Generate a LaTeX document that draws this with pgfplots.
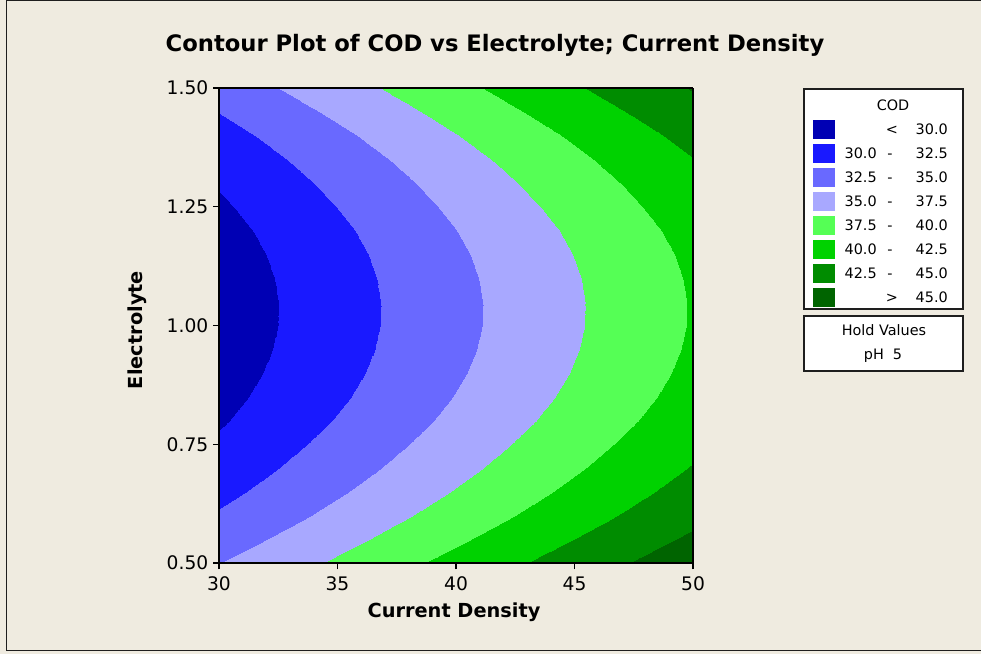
\documentclass[border=0pt]{standalone}
\usepackage{fontspec}
\setmainfont{DejaVu Sans}
\setsansfont{DejaVu Sans}
\usepackage{pgfplots}
\usepackage{pgfplotstable}
\pgfplotsset{compat=1.18}

\definecolor{bg}{RGB}{239,235,224}
\definecolor{c1}{RGB}{0,0,180}
\definecolor{c2}{RGB}{25,25,255}
\definecolor{c3}{RGB}{105,105,255}
\definecolor{c4}{RGB}{168,168,255}
\definecolor{c5}{RGB}{85,255,85}
\definecolor{c6}{RGB}{0,210,0}
\definecolor{c7}{RGB}{0,140,0}
\definecolor{c8}{RGB}{0,100,0}
\definecolor{frame}{RGB}{30,30,30}

% COD response over Current Density (x) and Electrolyte (y), pH held at 5
\pgfplotstableread{
x  y     z
30 0.50 34.96
35 0.50 37.86
40 0.50 40.76
45 0.50 43.66
50 0.50 46.56
30 0.55 33.81
35 0.55 36.71
40 0.55 39.61
45 0.55 42.51
50 0.55 45.41
30 0.60 32.77
35 0.60 35.67
40 0.60 38.57
45 0.60 41.47
50 0.60 44.37
30 0.65 31.84
35 0.65 34.74
40 0.65 37.64
45 0.65 40.54
50 0.65 43.44
30 0.70 31.03
35 0.70 33.93
40 0.70 36.83
45 0.70 39.73
50 0.70 42.63
30 0.75 30.34
35 0.75 33.24
40 0.75 36.14
45 0.75 39.04
50 0.75 41.94
30 0.80 29.75
35 0.80 32.65
40 0.80 35.55
45 0.80 38.45
50 0.80 41.35
30 0.85 29.28
35 0.85 32.18
40 0.85 35.08
45 0.85 37.98
50 0.85 40.88
30 0.90 28.93
35 0.90 31.83
40 0.90 34.73
45 0.90 37.63
50 0.90 40.53
30 0.95 28.69
35 0.95 31.59
40 0.95 34.49
45 0.95 37.39
50 0.95 40.29
30 1.00 28.56
35 1.00 31.46
40 1.00 34.36
45 1.00 37.26
50 1.00 40.16
30 1.05 28.55
35 1.05 31.45
40 1.05 34.35
45 1.05 37.25
50 1.05 40.15
30 1.10 28.65
35 1.10 31.55
40 1.10 34.45
45 1.10 37.35
50 1.10 40.25
30 1.15 28.86
35 1.15 31.76
40 1.15 34.66
45 1.15 37.56
50 1.15 40.46
30 1.20 29.19
35 1.20 32.09
40 1.20 34.99
45 1.20 37.89
50 1.20 40.79
30 1.25 29.64
35 1.25 32.54
40 1.25 35.44
45 1.25 38.34
50 1.25 41.24
30 1.30 30.19
35 1.30 33.09
40 1.30 35.99
45 1.30 38.89
50 1.30 41.79
30 1.35 30.86
35 1.35 33.76
40 1.35 36.66
45 1.35 39.56
50 1.35 42.46
30 1.40 31.65
35 1.40 34.55
40 1.40 37.45
45 1.40 40.35
50 1.40 43.25
30 1.45 32.55
35 1.45 35.45
40 1.45 38.35
45 1.45 41.25
50 1.45 44.15
30 1.50 33.56
35 1.50 36.46
40 1.50 39.36
45 1.50 42.26
50 1.50 45.16
}\codtable

\begin{document}
\begin{tikzpicture}
\path[use as bounding box] (0,0) rectangle (735.75pt,489.75pt);
\fill[bg] (-2pt,-2pt) rectangle (737.75pt,491.75pt);

\begin{axis}[
  at={(164.25pt,67.5pt)}, anchor=south west,
  scale only axis, width=355.5pt, height=356.25pt,
  view={0}{90},
  xmin=30, xmax=50, ymin=0.5, ymax=1.5,
  xtick={30,35,40,45,50},
  ytick={0.5,0.75,1,1.25,1.5},
  ztick=\empty,
  yticklabel style={/pgf/number format/.cd, fixed, fixed zerofill, precision=2},
  xticklabel style={yshift=-2.5pt},
  /pgf/number format/assume math mode=true,
  tick label style={font=\fontsize{14}{16}\selectfont, text=black},
  tick align=outside,
  tick pos=left,
  major tick length=4.5pt,
  tick style={line width=1.1pt, black},
  axis line style={line width=1.5pt, black},
  axis on top,
  % eight bands of 2.5 between 27.5 and 47.5
  colormap={cod}{color=(c1) color=(c2) color=(c3) color=(c4)
                 color=(c5) color=(c6) color=(c7) color=(c8)},
  colormap access=piecewise constant,
  point meta min=27.5, point meta max=47.5,
]
\addplot3[surf, shader=interp, mesh/cols=5] table {\codtable};
\end{axis}

\begin{scope}[x=0.75pt, y=-0.75pt, shift={(0,489.75pt)}]
  % outer frame: left, top and bottom edges
  \draw[frame, line width=1.2pt] (984,0.5) -- (6.5,0.5) -- (6.5,650.5) -- (984,650.5);

  % title and axis titles
  \node[font=\fontsize{17}{20}\bfseries\selectfont] at (495,45) {Contour Plot of COD vs Electrolyte; Current Density};
  \node[font=\fontsize{14.5}{17}\bfseries\selectfont] at (454,612) {Current Density};
  \node[font=\fontsize{14.5}{17}\bfseries\selectfont, rotate=90] at (137,330) {Electrolyte};

  % legend of contour levels
  \draw[frame, line width=1.3pt, fill=white] (804,89) rectangle (963,309);
  \draw[frame, line width=1.3pt, fill=white] (804,316) rectangle (963,371);
  \begin{scope}[every node/.style={font=\fontsize{10.8}{12}\selectfont, inner sep=0pt}]
    \node[anchor=base] at (893,111) {COD};
    \foreach \c/\i in {c1/0,c2/1,c3/2,c4/3,c5/4,c6/5,c7/6,c8/7}{
      \fill[\c] (813,{129.5+24*\i-9.5}) rectangle (835,{129.5+24*\i+9.5});
    }
    \node[anchor=base] at (892,135) {<};
    \node[anchor=base east] at (948,135) {30.0};
    \foreach \a/\b/\i in {30.0/32.5/1,32.5/35.0/2,35.0/37.5/3,37.5/40.0/4,40.0/42.5/5,42.5/45.0/6}{
      \node[anchor=base east] at (877,{135+24*\i}) {\a};
      \node[anchor=base] at (890,{135+24*\i}) {-};
      \node[anchor=base east] at (948,{135+24*\i}) {\b};
    }
    \node[anchor=base] at (892,303) {>};
    \node[anchor=base east] at (948,303) {45.0};
    \node[anchor=base] at (884,336) {Hold Values};
    \node[anchor=base] at (883,360) {pH\ \ 5};
  \end{scope}
\end{scope}
\end{tikzpicture}
\end{document}
